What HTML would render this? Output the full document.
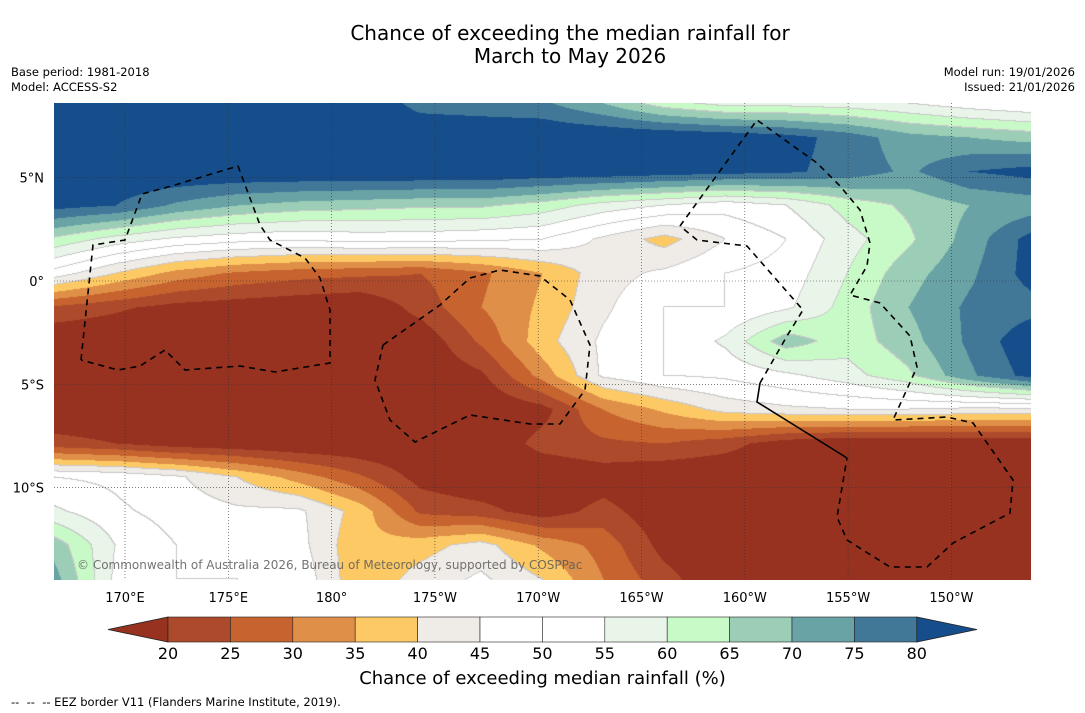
<!DOCTYPE html>
<html><head><meta charset="utf-8">
<style>
html,body{margin:0;padding:0;background:#fff;}
#root{position:relative;width:1085px;height:713px;overflow:hidden;font-family:"DejaVu Sans","Liberation Sans",sans-serif;color:#000;}
.t{position:absolute;white-space:nowrap;}
</style></head>
<body>
<div id="root">
<div class="t" style="left:0;width:1140px;top:22px;text-align:center;font-size:20px;line-height:23px;">Chance of exceeding the median rainfall for<br>March to May 2026</div>
<div class="t" style="left:11px;top:65px;font-size:11.5px;line-height:15px;">Base period: 1981-2018<br>Model: ACCESS-S2</div>
<div class="t" style="right:10px;top:65px;font-size:11.5px;line-height:15px;text-align:right;">Model run: 19/01/2026<br>Issued: 21/01/2026</div>
<canvas id="map" width="977" height="477" style="position:absolute;left:54px;top:103px;"></canvas>
<svg id="ov" width="1085" height="713" style="position:absolute;left:0;top:0;"></svg>
<div class="t" style="left:77px;top:558px;font-size:12px;color:rgba(90,90,90,0.85);">© Commonwealth of Australia 2026, Bureau of Meteorology, supported by COSPPac</div>
<div class="t" style="left:0;width:1085px;text-align:center;top:668px;font-size:18px;">Chance of exceeding median rainfall (%)</div>
<div class="t" style="left:11px;top:695px;font-size:11.5px;">--&nbsp; --&nbsp; -- EEZ border V11 (Flanders Marine Institute, 2019).</div>
</div>
<script>
const levels=[20,25,30,35,40,45,50,55,60,65,70,75,80];
const colors=['#973221','#ad4a2b','#c6632f','#df8f47','#fdc965','#efebe6','#ffffff','#ffffff','#eaf5ea','#c8fac8','#9bcdb7','#6aa3a6','#417898','#154e8a'];
const lonTicks=['170°E','175°E','180°','175°W','170°W','165°W','160°W','155°W','150°W'];
const lonVals=[170,175,180,185,190,195,200,205,210];
const latTicks=['5°N','0°','5°S','10°S'];
const latVals=[5,0,-5,-10];
const g0=[85,85,85,85,85,85,78,77,76,70,62,58,58,57,55,52,50];
const g1=[85,85,85,85,85,85,85,85,85,85,85,84,82,78,72,70,68];
const g2=[85,85,85,85,85,85,85,85,84,84,83,82,81,78,74,80,82];
const g3=[82,80,74,70,68,67,66,66,63,58,55,52,55,62,66,70,72];
const g4=[64,58,54,52,51,52,52,51,50,44,38,45,50,58,64,72,82];
const g5=[48,40,33,29,27,26,25,29,35,43,46,50,52,60,68,74,82];
const g6=[24,21,18,17,16,15,22,30,36,44,50,50,54,62,70,76,78];
const g7=[15,15,15,15,15,15,16,26,38,46,50,56,68,62,68,76,84];
const g8=[15,15,15,15,15,15,15,19,32,46,50,51,54,58,64,74,82];
const g9=[15,15,15,15,15,15,15,15,18,30,36,42,44,45,45,44,44];
const g10=[22,20,17,16,15,15,15,15,22,24,25,22,17,15,15,15,15];
const g11=[50,49,46,40,33,26,18,15,15,17,15,15,15,15,15,15,15];
const g12=[56,51,48,46,46,38,24,22,17,22,16,15,15,15,15,15,15];
const g13=[68,55,50,48,47,36,38,42,34,28,18,15,15,15,15,15,15];
const g14=[72,54,50,50,49,36,42,46,40,30,22,15,15,15,15,15,15];
const grid=[g0,g1,g2,g3,g4,g5,g6,g7,g8,g9,g10,g11,g12,g13,g14];

// axis functions
const MX=54,MY=103,MW=977,MH=477;
const xLon=l=>125+(l-170)*20.66;
const yLat=v=>281-v*20.66;

// map
(function(){
 const cv=document.getElementById('map');const ctx=cv.getContext('2d');
 const W=MW,H=MH,nc=grid[0].length,nr=grid.length;
 const rgb=colors.map(c=>[parseInt(c.substr(1,2),16),parseInt(c.substr(3,2),16),parseInt(c.substr(5,2),16)]);
 const cls=new Uint8Array(W*H);
 for(let y=0;y<H;y++){const fy=y/(H-1)*(nr-1);const j=Math.min(nr-2,Math.floor(fy));const ty=fy-j;
  for(let x=0;x<W;x++){const fx=x/(W-1)*(nc-1);const i=Math.min(nc-2,Math.floor(fx));const tx=fx-i;
   const v=(grid[j][i]*(1-tx)+grid[j][i+1]*tx)*(1-ty)+(grid[j+1][i]*(1-tx)+grid[j+1][i+1]*tx)*ty;
   let k=0;while(k<levels.length&&v>=levels[k])k++;cls[y*W+x]=k;}}
 const img=ctx.createImageData(W,H);
 for(let p=0;p<W*H;p++){let c=rgb[cls[p]];const k=cls[p];
  const x=p%W;
  if(k>=4&&k<=10){const r=x<W-1?cls[p+1]:k,d=p+W<W*H?cls[p+W]:k;
   if((r!==k&&r>=4&&r<=10)||(d!==k&&d>=4&&d<=10))c=[200,200,200];}
  img.data[p*4]=c[0];img.data[p*4+1]=c[1];img.data[p*4+2]=c[2];img.data[p*4+3]=255;}
 ctx.putImageData(img,0,0);
})();

const NS='http://www.w3.org/2000/svg';
const ov=document.getElementById('ov');
function mk(tag,attrs){const e=document.createElementNS(NS,tag);for(const k in attrs)e.setAttribute(k,attrs[k]);ov.appendChild(e);return e;}

// gridlines
lonVals.forEach((l,i)=>{const e=mk('line',{x1:xLon(l),x2:xLon(l),y1:MY,y2:MY+MH,stroke:'#333','stroke-width':0.6,'stroke-dasharray':'1,2'});
 
 
 const t=mk('text',{x:xLon(l),y:602,'text-anchor':'middle','font-size':13,'font-family':'DejaVu Sans, sans-serif'});t.textContent=lonTicks[i];
 
 });
latVals.forEach((v,i)=>{const e=mk('line',{x1:MX,x2:MX+MW,y1:yLat(v),y2:yLat(v),stroke:'#333','stroke-width':0.6,'stroke-dasharray':'1,2'});
 
 
 const t=mk('text',{x:44,y:yLat(v)+5,'text-anchor':'end','font-size':13,'font-family':'DejaVu Sans, sans-serif'});t.textContent=latTicks[i];
 
 });

// EEZ borders
const eez=[
 [[81,360],[93,245],[125,240],[142,194],[175,185],[238,166],[260,225],[270,240],[305,258],[320,278],[330,310],[330,363],[275,372],[240,366],[185,370],[165,350],[140,366],[118,370],[81,360]],
 [[383,345],[440,305],[470,278],[500,270],[540,276],[570,300],[590,345],[585,390],[560,424],[530,424],[470,415],[415,442],[390,420],[375,380],[383,345]],
 [[680,226],[757,120],[817,163],[840,186],[860,210],[870,243],[867,266],[850,295],[880,303],[910,336],[917,367],[893,420],[947,417],[973,423],[1013,480],[1010,513],[953,543],[927,567],[890,567],[847,540],[837,517],[847,458]],
 [[760,383],[787,336],[803,310],[747,246],[697,240],[680,226]]
];
eez.forEach(pts=>{const e=mk('polyline',{points:pts.map(p=>p.join(',')).join(' '),fill:'none',stroke:'#000','stroke-width':1.6,'stroke-dasharray':'6,5'});
 
 });
const sl=mk('polyline',{points:'847,458 757,402 760,383',fill:'none',stroke:'#000','stroke-width':1.6});



// colorbar
const cbX0=168,cbW=62.4,cbY=617,cbH=25;
const lt=mk('polygon',{points:`${cbX0},${cbY} ${cbX0},${cbY+cbH} 108,${cbY+cbH/2}`,fill:colors[0],stroke:'#222','stroke-width':0.8});


for(let i=0;i<levels.length-1;i++){
 const r=mk('rect',{x:cbX0+i*cbW,y:cbY,width:cbW,height:cbH,fill:colors[i+1],stroke:'#222','stroke-width':0.6});
 
 }
const xe=cbX0+(levels.length-1)*cbW;
const rt=mk('polygon',{points:`${xe},${cbY} ${xe},${cbY+cbH} 977,${cbY+cbH/2}`,fill:colors[13],stroke:'#222','stroke-width':0.8});


levels.forEach((l,i)=>{const t=mk('text',{x:cbX0+i*cbW,y:659,'text-anchor':'middle','font-size':16,'font-family':'DejaVu Sans, sans-serif'});t.textContent=l;
 
 });
</script>
</body></html>
